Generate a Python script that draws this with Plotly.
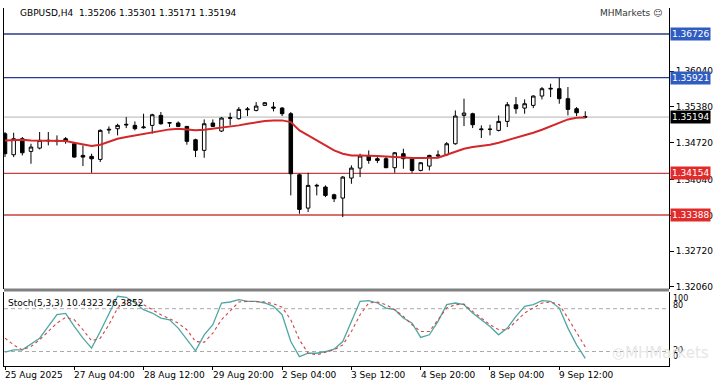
import plotly.graph_objects as go

# ---------------- data ----------------
opens = [1.34887, 1.34499, 1.34795, 1.34561, 1.34622, 1.34752, 1.34764, 1.34795, 1.34702, 1.34487,
         1.34469, 1.34413, 1.34955, 1.34979, 1.35047, 1.35041, 1.34997, 1.35041, 1.35225, 1.35084,
         1.35084, 1.35022, 1.34776, 1.34580, 1.35084, 1.34936, 1.35170, 1.35164, 1.35330, 1.35317,
         1.35410, 1.35379, 1.35360, 1.35256, 1.34130, 1.33515, 1.33921, 1.33903, 1.33761, 1.33700,
         1.34069, 1.34253, 1.34475, 1.34426, 1.34426, 1.34260, 1.34518, 1.34426, 1.34210, 1.34290,
         1.34475, 1.34499, 1.34702, 1.35225, 1.35256, 1.34961, 1.34967, 1.34948, 1.35114, 1.35422,
         1.35360, 1.35410, 1.35582, 1.35711, 1.35717, 1.35533, 1.35348, 1.35206]
highs = [1.34918, 1.34905, 1.34826, 1.34702, 1.34918, 1.34918, 1.34856, 1.34826, 1.34733, 1.34672,
         1.34518, 1.34967, 1.35022, 1.35071, 1.35194, 1.35114, 1.35256, 1.35256, 1.35287, 1.35102,
         1.35114, 1.35022, 1.34795, 1.35151, 1.35151, 1.35194, 1.35274, 1.35379, 1.35379, 1.35471,
         1.35471, 1.35471, 1.35379, 1.35287, 1.34148, 1.34167, 1.33964, 1.33934, 1.33780, 1.34106,
         1.34303, 1.34518, 1.34579, 1.34456, 1.34475, 1.34549, 1.34610, 1.34456, 1.34364, 1.34499,
         1.34579, 1.34733, 1.35317, 1.35533, 1.35274, 1.35041, 1.35053, 1.35225, 1.35471, 1.35563,
         1.35520, 1.35594, 1.35748, 1.35809, 1.35914, 1.35748, 1.35379, 1.35301]
lows = [1.34456, 1.34456, 1.34487, 1.34333, 1.34598, 1.34672, 1.34672, 1.34702, 1.34444, 1.34290,
        1.34167, 1.34364, 1.34887, 1.34856, 1.34991, 1.34949, 1.34979, 1.34887, 1.35053, 1.35010,
        1.35010, 1.34684, 1.34456, 1.34444, 1.35010, 1.34918, 1.35041, 1.35151, 1.35213, 1.35299,
        1.35397, 1.35299, 1.35213, 1.33749, 1.33411, 1.33442, 1.33749, 1.33718, 1.33626, 1.33349,
        1.33964, 1.34087, 1.34333, 1.34346, 1.34253, 1.34167, 1.34241, 1.34167, 1.34192, 1.34210,
        1.34438, 1.34475, 1.34684, 1.35028, 1.34991, 1.34807, 1.34856, 1.34930, 1.35010, 1.35256,
        1.35256, 1.35360, 1.35520, 1.35563, 1.35440, 1.35225, 1.35213, 1.35171]
closes = [1.34518, 1.34795, 1.34536, 1.34641, 1.34764, 1.34764, 1.34752, 1.34752, 1.34456, 1.34456,
          1.34425, 1.34949, 1.34967, 1.35041, 1.35059, 1.34979, 1.35010, 1.35237, 1.35071, 1.35090,
          1.35022, 1.34746, 1.34580, 1.35071, 1.35022, 1.35176, 1.35182, 1.35336, 1.35342, 1.35397,
          1.35459, 1.35360, 1.35256, 1.34149, 1.33491, 1.33934, 1.33934, 1.33749, 1.33688, 1.34087,
          1.34253, 1.34475, 1.34395, 1.34395, 1.34260, 1.34536, 1.34426, 1.34210, 1.34352, 1.34487,
          1.34493, 1.34702, 1.35213, 1.35268, 1.35053, 1.34973, 1.34970, 1.35114, 1.35422, 1.35348,
          1.35440, 1.35582, 1.35717, 1.35723, 1.35533, 1.35336, 1.35274, 1.35194]
ma_values = [1.34764, 1.34776, 1.34776, 1.34764, 1.34764, 1.34764, 1.34752, 1.34752, 1.34721, 1.34690,
             1.34659, 1.34684, 1.34733, 1.34795, 1.34826, 1.34856, 1.34887, 1.34918, 1.34949, 1.34967,
             1.34979, 1.34967, 1.34949, 1.34961, 1.34979, 1.34991, 1.35022, 1.35041, 1.35071, 1.35102,
             1.35120, 1.35133, 1.35133, 1.35102, 1.34948, 1.34856, 1.34764, 1.34672, 1.34579, 1.34518,
             1.34487, 1.34487, 1.34487, 1.34475, 1.34468, 1.34456, 1.34456, 1.34438, 1.34438, 1.34438,
             1.34444, 1.34499, 1.34561, 1.34610, 1.34641, 1.34659, 1.34684, 1.34721, 1.34764, 1.34807,
             1.34856, 1.34905, 1.34961, 1.35028, 1.35090, 1.35151, 1.35182, 1.35188]
stoch_main = [19.0, 22.3, 22.3, 30.3, 38.7, 55.1, 71.6, 73.4, 55.1, 38.7,
              24.7, 48.1, 73.9, 97.4, 96.0, 88.0, 78.6, 73.9, 66.9, 64.5,
              52.8, 36.4, 20.9, 43.4, 57.5, 88.0, 89.4, 92.7, 90.3, 90.3,
              88.0, 83.3, 71.6, 34.0, 12.9, 17.6, 17.6, 20.0, 23.3, 34.0,
              62.2, 90.3, 91.3, 88.0, 80.9, 78.6, 66.9, 59.8, 39.7, 43.4,
              62.2, 85.6, 88.0, 85.6, 73.9, 64.5, 55.1, 43.4, 52.8, 69.2,
              83.3, 85.6, 91.3, 90.3, 80.9, 52.8, 29.3, 10.43]
stoch_signal = [38.7, 29.3, 22.3, 27.0, 36.4, 48.1, 59.8, 67.8, 64.5, 50.5,
                35.0, 38.7, 57.5, 80.9, 91.3, 92.7, 85.6, 78.6, 71.6, 66.0,
                59.8, 50.5, 34.0, 33.0, 45.8, 64.5, 77.0, 89.4, 90.3, 90.3,
                89.4, 87.0, 82.0, 64.5, 36.4, 17.6, 15.3, 19.0, 22.3, 29.3,
                48.1, 71.6, 88.0, 89.4, 85.6, 78.6, 69.2, 57.5, 48.1, 48.1,
                64.5, 80.9, 85.6, 86.6, 76.2, 66.9, 57.5, 50.5, 50.5, 62.2,
                73.9, 80.9, 88.0, 89.4, 85.6, 66.9, 45.8, 26.39]
bars = list(range(len(opens)))

price_ticks = [1.32060, 1.32720, 1.33380, 1.34040, 1.34720, 1.35380, 1.36040]
time_tick_bars = [0, 8, 16, 24, 32, 40, 48, 56, 64]
time_tick_labels = ["25 Aug 2025", "27 Aug 04:00", "28 Aug 12:00", "29 Aug 20:00", "2 Sep 04:00",
                    "3 Sep 12:00", "4 Sep 20:00", "8 Sep 04:00", "9 Sep 12:00"]
level_values = [1.36726, 1.35921, 1.35194, 1.34154, 1.33388]
level_line_colors = ["#2b3a8f", "#2b3a8f", "#b4b4b4", "#c8403f", "#c8403f"]
level_tag_colors = ["#2f5cc0", "#2f5cc0", "#000000", "#e12b2b", "#e12b2b"]
stoch_levels = [80, 20]
stoch_labels = ["100", "80", "20", "0"]
stoch_label_vals = [100, 80, 20, 0]
title_text = "GBPUSD,H4  1.35206 1.35301 1.35171 1.35194"
stoch_title = "Stoch(5,3,3) 10.4323 26.3852"

# ---------------- figure ----------------
FONT = "DejaVu Sans"
W, H = 720, 388
ML, MR, MT, MB = 4, 51, 8, 22
plot_h = H - MT - MB
main_bottom_px, stoch_top_px = 288.5, 291.5
main_dom = [(H - MB - main_bottom_px) / plot_h, 1]
stoch_dom = [0, (H - MB - stoch_top_px) / plot_h]

fig = go.Figure()
fig.add_trace(go.Candlestick(
    x=bars, open=opens, high=highs, low=lows, close=closes,
    increasing=dict(line=dict(color="black", width=1), fillcolor="white"),
    decreasing=dict(line=dict(color="black", width=1), fillcolor="black"),
    whiskerwidth=0, hoverinfo="skip", showlegend=False, xaxis="x", yaxis="y"))
fig.add_trace(go.Scatter(x=bars, y=ma_values, mode="lines",
                         line=dict(color="#d3272a", width=2), showlegend=False,
                         xaxis="x", yaxis="y", hoverinfo="skip"))
fig.add_trace(go.Scatter(x=bars, y=stoch_main, mode="lines",
                         line=dict(color="#4fa7a4", width=1.3), showlegend=False,
                         xaxis="x2", yaxis="y2", hoverinfo="skip"))
fig.add_trace(go.Scatter(x=bars, y=stoch_signal, mode="lines",
                         line=dict(color="#d04848", width=1.1, dash="3px,3px"), showlegend=False,
                         xaxis="x2", yaxis="y2", hoverinfo="skip"))

xrange = [-0.115, 76.67]
shapes = []
for v, c in zip(level_values, level_line_colors):
    shapes.append(dict(type="line", xref="paper", x0=0, x1=1, yref="y", y0=v, y1=v,
                       line=dict(color=c, width=1.3 if c != "#b4b4b4" else 1), layer="below"))
for v in stoch_levels:
    shapes.append(dict(type="line", xref="paper", x0=0, x1=1, yref="y2", y0=v, y1=v,
                       line=dict(color="#ababab", width=1, dash="4px,3px"), layer="below"))
shapes.append(dict(type="rect", xref="paper", x0=0, x1=1, yref="paper",
                   y0=stoch_dom[1], y1=main_dom[0], fillcolor="#808080", line=dict(width=0)))

annotations = []
for v, c in zip(level_values, level_tag_colors):
    annotations.append(dict(xref="paper", x=1, xanchor="left", xshift=1, yref="y", y=v,
                            yanchor="middle", text=f"{v:.5f}", showarrow=False,
                            font=dict(family=FONT, size=9, color="white"),
                            bgcolor=c, borderpad=1))
stoch_shifts = [-4, 3.5, 1, 9]
for lab, v, s in zip(stoch_labels, stoch_label_vals, stoch_shifts):
    annotations.append(dict(xref="paper", x=1, xanchor="left", xshift=2, yref="y2", y=v,
                            yanchor="middle", yshift=s, text=lab, showarrow=False,
                            font=dict(family=FONT, size=8, color="black")))
for b, lab in zip(time_tick_bars, time_tick_labels):
    annotations.append(dict(xref="x2", x=b, xanchor="left", xshift=-2, yref="paper", y=0,
                            yanchor="top", yshift=-2, text=lab, showarrow=False,
                            font=dict(family=FONT, size=9, color="black")))
annotations.append(dict(xref="paper", x=0, xanchor="left", xshift=14, yref="paper", y=1,
                        yanchor="middle", yshift=-5, text=title_text, showarrow=False,
                        font=dict(family=FONT, size=9, color="black")))
annotations.append(dict(xref="paper", x=1, xanchor="right", xshift=-5, yref="paper", y=1,
                        yanchor="middle", yshift=-5, text="MHMarkets ☺", showarrow=False,
                        font=dict(family=FONT, size=9, color="#333333")))
annotations.append(dict(xref="paper", x=stoch_dom[0], xanchor="left", xshift=2, yref="paper",
                        y=stoch_dom[1], yanchor="middle", yshift=-11.5, text=stoch_title,
                        showarrow=False, font=dict(family=FONT, size=9, color="black")))
annotations.append(dict(xref="paper", x=1, xanchor="right", xshift=42, yref="paper", y=0,
                        yanchor="bottom", yshift=2, text="◎MHMarkets", showarrow=False,
                        font=dict(family=FONT, size=15, color="#e6e6e6")))

fig.update_layout(
    width=W, height=H, margin=dict(l=ML, r=MR, t=MT, b=MB),
    paper_bgcolor="white", plot_bgcolor="white", boxgap=0.42,
    showlegend=False, shapes=shapes, annotations=annotations,
    xaxis=dict(domain=[0, 1], range=xrange, anchor="y", showgrid=False, zeroline=False,
               showticklabels=False, ticks="", rangeslider=dict(visible=False), showline=False),
    yaxis=dict(domain=main_dom, range=[1.32032, 1.37206], side="right", anchor="x",
               tickvals=price_ticks, ticktext=[f"{v:.5f}" for v in price_ticks],
               ticks="outside", ticklen=4, tickcolor="black", showgrid=False, zeroline=False,
               showline=True, mirror=True, linecolor="black", linewidth=1, automargin=False,
               tickfont=dict(family=FONT, size=9, color="black")),
    xaxis2=dict(domain=[0, 1], range=xrange, anchor="y2", showgrid=False, zeroline=False,
                tickvals=time_tick_bars, ticktext=["" for _ in time_tick_bars],
                ticks="outside", ticklen=3, tickcolor="black", automargin=False,
                showline=True, linecolor="black", linewidth=1),
    yaxis2=dict(domain=stoch_dom, range=[-0.3, 104.1], side="right", anchor="x2",
                showticklabels=False, ticks="", showgrid=False, zeroline=False, automargin=False,
                showline=True, mirror=True, linecolor="black", linewidth=1),
)

fig.write_html("out.html", config={"displayModeBar": False},
               post_script="document.body.style.margin='0';document.body.style.overflow='hidden';")
